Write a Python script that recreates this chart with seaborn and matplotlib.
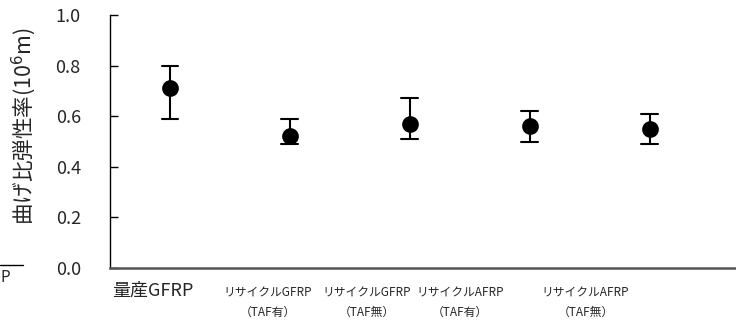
import matplotlib
matplotlib.use("Agg")
import matplotlib.pyplot as plt
import matplotlib.transforms as mtransforms
from matplotlib.lines import Line2D
import seaborn as sns
import pandas as pd

categories = ["量産GFRP", "リサイクルGFRP\n（TAF有）", "リサイクルGFRP\n（TAF無）",
              "リサイクルAFRP\n（TAF有）", "リサイクルAFRP\n（TAF無）"]
mean_vals = [0.71, 0.52, 0.57, 0.56, 0.55]
lower_vals = [0.59, 0.49, 0.51, 0.50, 0.49]
upper_vals = [0.80, 0.59, 0.67, 0.62, 0.61]
y_ticks = [0.0, 0.2, 0.4, 0.6, 0.8, 1.0]

# long form: lower / centre / upper per category -> median + min/max interval
df = pd.DataFrame({
    "cat": categories * 3,
    "val": lower_vals + mean_vals + upper_vals,
})

sns.set_theme(style="white")
plt.rcParams["font.family"] = ["Noto Sans CJK JP", "DejaVu Sans"]

fig = plt.figure(figsize=(7.36, 3.22), dpi=100)
ax = fig.add_axes([110 / 736, 1 - 268 / 322, 626 / 736, 253 / 322])

sns.pointplot(data=df, x="cat", y="val", order=categories,
              estimator="median", errorbar=lambda v: (v.min(), v.max()),
              linestyle="none", marker="o", markersize=10, color="black",
              capsize=0.14, err_kws={"linewidth": 1.5}, ax=ax)

ax.set_ylim(0, 1.0)
ax.set_xlim(-0.5, 4.72)
ax.set_yticks(y_ticks)
ax.set_yticklabels([f"{t:.1f}" for t in y_ticks], fontsize=13)
ax.tick_params(axis="y", direction="in", length=6, width=1, color="black",
               pad=21, left=True)
ax.tick_params(axis="x", length=0, pad=13)

ax.set_xlabel("")
ax.set_ylabel("曲げ比弾性率(10$^6$m)", fontsize=15.5)
ax.yaxis.set_label_coords(-0.115, 0.56)

ax.spines["top"].set_visible(False)
ax.spines["right"].set_visible(False)
ax.spines["left"].set_color("black")
ax.spines["left"].set_linewidth(1)
ax.spines["bottom"].set_color("#555555")
ax.spines["bottom"].set_linewidth(1.8)

# tick label sizes and horizontal shifts (px) as in the source layout
label_dx = [-17, -22, -43, -70, -64]
for lab, dx in zip(ax.get_xticklabels(), label_dx):
    first = lab.get_text() == categories[0]
    lab.set_fontsize(13 if first else 8.5)
    lab.set_linespacing(1.65)
    shift_y = 4 if first else 0
    lab.set_transform(lab.get_transform() +
                      mtransforms.ScaledTranslation(dx / 100, shift_y / 100,
                                                    fig.dpi_scale_trans))

# cropped remnant of a neighbouring chart at the far left
fig.add_artist(Line2D([0, 23 / 736], [1 - 265 / 322] * 2, color="black", lw=1))
fig.text(0.0, 1 - 278 / 322, "P", fontsize=11, va="center", ha="left")

fig.savefig("out.png", dpi=100)
